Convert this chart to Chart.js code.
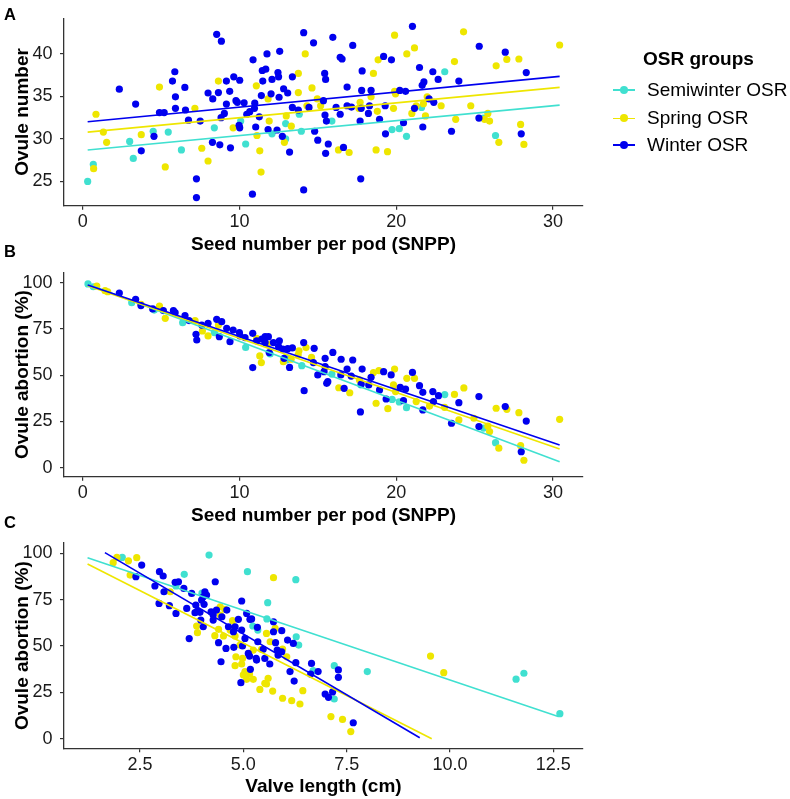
<!DOCTYPE html>
<html>
<head>
<meta charset="utf-8">
<script src="https://cdn.jsdelivr.net/npm/chart.js@4/dist/chart.umd.min.js"></script>
<style>
html,body{margin:0;padding:0;background:#fff;}
#wrap{position:relative;width:790px;height:799px;overflow:hidden;font-family:"Liberation Sans",Arial,sans-serif;color:#000;}
canvas{position:absolute;left:0;top:0;}
.tag{position:absolute;left:4px;font-weight:bold;font-size:16.5px;line-height:16px;}
.lg{position:absolute;font-size:19px;line-height:20px;white-space:nowrap;}
.lgt{font-weight:bold;}
.key{position:absolute;width:22px;height:1.5px;}
.dot{position:absolute;width:8px;height:8px;border-radius:50%;}
</style>
</head>
<body>
<div id="wrap">
<canvas id="cA" width="790" height="799"></canvas>
<canvas id="cB" width="790" height="799"></canvas>
<canvas id="cC" width="790" height="799"></canvas>
<div class="tag" style="top:6px">A</div>
<div class="tag" style="top:243px">B</div>
<div class="tag" style="top:514px">C</div>
<div id="legend"></div>
</div>
<script>
// ---------- DATA ----------
const groupNames = ['Semiwinter OSR', 'Spring OSR', 'Winter OSR'];
const groupColors = ['#40E0D0', '#EEE600', '#0000EE'];

const snppTicks = [0, 10, 20, 30];
const ovuleTicks = [25, 30, 35, 40];
const abortionTicks = [0, 25, 50, 75, 100];
const valveTicks = [2.5, 5.0, 7.5, 10.0, 12.5];
const valveTickLabels = ['2.5', '5.0', '7.5', '10.0', '12.5'];

// Panel A: seed number per pod vs ovule number
const semiwinterA = [[0.32,25.0],[0.68,27.0],[3.0,29.7],[3.23,27.7],[4.5,30.9],[5.46,30.8],[6.3,28.7],[8.4,31.3],[10.08,32.1],[10.4,29.4],[12.08,30.6],[12.95,31.8],[12.95,30.0],[13.82,32.9],[13.95,30.9],[15.9,32.1],[17.75,33.75],[19.74,31.1],[20.2,31.2],[20.66,30.3],[21.62,33.7],[23.1,37.9],[25.57,32.45],[26.34,30.4]];
const springA = [[0.7,26.5],[0.85,32.9],[1.32,30.8],[1.53,29.6],[3.74,30.5],[4.9,36.1],[5.27,26.7],[7.16,33.6],[7.6,28.9],[8.0,27.4],[8.66,36.8],[9.6,31.3],[11.08,36.25],[11.12,30.4],[11.3,28.6],[11.38,26.1],[11.83,34.7],[11.9,32.1],[12.87,29.6],[12.99,32.7],[13.31,31.5],[13.76,37.7],[13.76,35.45],[14.2,40.0],[14.31,33.9],[14.63,36.0],[14.97,34.7],[15.18,33.9],[16.32,28.7],[17.0,28.4],[17.62,33.6],[17.7,34.3],[18.4,34.95],[18.55,37.7],[18.72,28.7],[18.8,33.25],[18.85,39.3],[19.45,28.5],[19.83,33.6],[19.9,35.6],[19.9,42.2],[19.96,35.3],[20.68,40.0],[21.0,33.0],[21.17,40.7],[21.28,33.9],[21.74,34.15],[21.87,32.7],[21.98,34.95],[22.87,33.9],[23.72,39.1],[23.8,32.3],[24.3,42.6],[24.76,33.9],[25.64,32.3],[25.85,33.0],[25.96,32.1],[26.38,38.6],[26.55,29.6],[27.06,39.35],[27.83,39.4],[27.94,31.7],[28.15,29.35],[30.43,41.05]];
const winterA = [[2.34,35.85],[3.38,34.1],[3.74,28.6],[4.55,30.3],[4.9,33.1],[5.2,33.1],[5.73,36.8],[5.88,37.9],[5.92,34.95],[5.92,33.6],[6.52,36.06],[6.56,33.4],[6.75,32.2],[7.26,25.3],[7.26,23.1],[7.5,32.1],[8.0,35.4],[8.28,29.6],[8.3,34.7],[8.55,42.3],[8.66,35.45],[8.75,29.3],[8.83,32.5],[8.85,41.5],[9.04,33.0],[9.17,36.8],[9.17,34.1],[9.38,35.6],[9.43,28.95],[9.64,37.3],[9.78,34.5],[9.87,34.3],[9.98,31.6],[10.02,36.9],[10.02,31.3],[10.3,34.25],[10.47,32.9],[10.66,33.2],[10.83,23.5],[10.87,39.3],[10.96,33.6],[10.98,34.2],[11.04,31.4],[11.27,32.6],[11.4,35.1],[11.46,38.05],[11.49,36.8],[11.68,38.2],[11.76,40.0],[11.83,31.1],[12.02,35.3],[12.08,37.0],[12.4,31.05],[12.46,37.8],[12.5,37.3],[12.53,34.9],[12.57,40.3],[12.74,30.3],[12.82,35.9],[13.08,35.4],[13.2,28.45],[13.38,37.3],[13.38,33.7],[13.76,33.4],[14.1,42.5],[14.1,24.0],[14.44,33.7],[14.73,41.3],[14.8,30.9],[15.0,29.85],[15.36,34.5],[15.44,37.7],[15.46,32.8],[15.5,37.0],[15.5,28.3],[15.55,32.1],[15.67,29.4],[15.96,41.95],[16.17,33.7],[16.43,39.6],[16.43,32.9],[16.55,39.4],[16.64,29.0],[16.87,36.1],[16.87,33.9],[17.15,33.75],[17.23,41.0],[17.7,32.1],[17.74,25.3],[17.77,33.6],[17.8,35.7],[17.83,38.0],[18.23,33.0],[18.3,33.9],[18.4,35.7],[18.94,32.3],[19.2,39.7],[19.3,33.9],[19.32,30.6],[19.7,39.3],[20.23,35.7],[20.47,31.9],[20.6,35.6],[21.04,43.25],[21.17,33.6],[21.49,38.4],[21.66,36.3],[21.7,31.4],[21.77,36.7],[22.1,34.7],[22.34,37.9],[22.4,34.3],[22.68,37.0],[23.53,30.9],[24.0,36.8],[25.28,32.45],[25.3,40.9],[26.96,40.2],[27.98,30.6],[28.3,37.8]];

// Panel B: seed number per pod vs ovule abortion (%)
const semiwinterB = [[0.34,99.3],[0.68,97.8],[3.13,89.2],[4.57,85.2],[6.38,78.4],[8.4,73.0],[10.4,65.0],[11.96,61.5],[12.98,59.6],[13.0,58.2],[13.98,55.1],[15.9,50.6],[17.75,44.7],[19.74,36.9],[20.2,35.5],[20.66,32.4],[23.1,39.5],[25.57,21.4],[26.34,13.5]];
const springB = [[0.9,98.2],[1.43,95.7],[1.6,95.1],[3.72,88.3],[4.9,87.4],[5.27,80.7],[7.17,79.5],[7.64,73.9],[8.0,71.2],[8.66,77.1],[11.1,69.9],[11.3,60.4],[11.4,56.8],[11.8,66.8],[12.8,57.3],[13.3,58.6],[13.75,61.0],[13.8,63.2],[14.25,64.9],[14.6,59.6],[16.34,43.2],[17.04,40.5],[17.66,47.4],[18.55,51.4],[18.72,34.8],[18.9,52.4],[19.47,31.9],[19.83,44.7],[19.9,53.3],[19.96,41.1],[20.68,48.3],[21.17,48.3],[21.28,35.7],[22.13,33.3],[23.09,32.6],[23.72,39.6],[24.0,25.8],[24.32,43.1],[24.96,26.7],[25.85,22.5],[25.96,19.5],[26.38,32.1],[26.55,10.5],[27.06,31.5],[27.83,29.7],[27.94,11.9],[28.15,4.0],[30.43,26.1]];
const winterB = [[2.34,94.4],[3.38,91.0],[3.72,87.6],[4.47,85.8],[5.15,84.9],[5.79,84.9],[5.9,83.8],[6.53,82.2],[6.79,79.5],[7.23,72.1],[7.28,69.0],[7.6,77.1],[8.0,78.0],[8.55,80.2],[8.72,70.8],[8.87,78.9],[9.19,75.3],[9.4,68.1],[9.6,74.4],[10.0,73.0],[10.04,71.2],[10.36,70.3],[10.85,72.6],[10.85,54.1],[11.1,68.6],[11.43,69.5],[11.64,70.8],[11.64,67.6],[11.85,70.8],[11.9,62.2],[12.17,67.6],[12.5,65.4],[12.55,68.6],[12.77,64.1],[12.85,59.1],[13.08,64.3],[13.2,54.2],[13.38,64.7],[14.1,67.6],[14.13,41.6],[14.72,56.8],[14.77,64.5],[15.0,50.1],[15.4,51.9],[15.47,59.1],[15.47,54.6],[15.57,45.6],[15.64,46.5],[15.96,62.3],[16.47,50.1],[16.49,58.6],[16.68,42.9],[16.87,53.3],[17.13,49.5],[17.23,58.2],[17.72,30.1],[17.77,45.2],[17.83,53.3],[18.25,44.7],[18.4,48.8],[18.94,42.0],[19.2,51.9],[19.36,37.1],[19.68,50.1],[20.26,43.4],[20.47,36.2],[20.6,42.5],[21.04,51.5],[21.49,44.3],[21.7,40.7],[21.7,31.2],[22.34,41.1],[22.38,35.7],[22.7,38.9],[23.53,24.0],[24.0,35.1],[25.28,38.4],[25.28,22.2],[26.96,33.0],[27.98,8.6],[28.3,25.2]];

// Panel C: valve length (cm) vs ovule abortion (%)
const semiwinterC = [[2.07,97.8],[3.37,82.4],[3.57,88.7],[4.0,78.5],[4.17,99.1],[5.1,90.1],[5.23,60.8],[5.35,58.6],[5.57,64.6],[5.59,73.4],[6.27,85.8],[6.28,55.0],[6.34,50.5],[6.69,36.7],[7.2,39.4],[7.2,21.4],[8.0,36.2],[11.6,32.1],[11.79,35.3],[12.66,13.5]];
const springC = [[1.85,95.0],[1.94,97.8],[2.22,96.0],[2.42,97.7],[2.26,88.3],[3.23,79.3],[3.87,60.8],[3.89,57.2],[4.31,55.6],[4.4,59.0],[4.44,71.2],[4.44,66.7],[4.52,55.4],[4.55,69.8],[4.68,58.6],[4.74,63.7],[4.8,55.4],[4.8,39.4],[4.82,44.2],[4.92,50.5],[4.96,40.3],[4.98,43.3],[5.0,34.4],[5.04,36.2],[5.08,32.0],[5.15,34.9],[5.24,32.0],[5.24,47.8],[5.4,26.6],[5.44,48.2],[5.52,29.9],[5.56,29.5],[5.56,56.8],[5.6,32.6],[5.65,52.3],[5.71,25.7],[5.73,86.9],[5.77,59.5],[5.95,48.4],[5.95,21.8],[6.05,44.2],[6.17,20.5],[6.37,18.7],[6.44,25.9],[7.12,11.9],[7.4,10.4],[7.6,3.8],[9.53,44.6],[9.85,35.6]];
const winterC = [[2.4,87.4],[2.54,93.7],[2.86,82.4],[2.96,73.0],[2.97,90.1],[3.06,87.8],[3.08,79.3],[3.21,71.8],[3.35,84.4],[3.37,67.6],[3.43,84.7],[3.56,81.1],[3.63,70.3],[3.69,54.0],[3.75,78.4],[3.83,68.0],[3.85,72.1],[3.89,68.9],[3.95,68.2],[3.97,64.0],[3.99,74.8],[4.03,76.6],[4.03,60.4],[4.05,72.5],[4.07,79.3],[4.11,77.5],[4.22,68.5],[4.27,66.7],[4.27,64.0],[4.32,84.7],[4.35,69.4],[4.4,51.8],[4.46,41.5],[4.48,65.8],[4.58,48.7],[4.6,69.4],[4.64,60.4],[4.76,57.7],[4.77,49.3],[4.8,60.4],[4.88,64.4],[4.94,30.2],[4.96,74.3],[4.96,58.6],[4.98,50.0],[5.04,54.1],[5.08,67.6],[5.12,46.0],[5.15,44.6],[5.16,64.4],[5.17,37.4],[5.2,64.6],[5.31,43.3],[5.32,42.4],[5.34,60.1],[5.35,52.3],[5.48,48.2],[5.52,43.3],[5.64,40.3],[5.73,63.1],[5.73,57.7],[5.78,51.8],[5.82,47.8],[5.84,45.1],[5.93,58.3],[5.93,46.9],[6.07,53.2],[6.13,36.2],[6.21,51.4],[6.23,31.1],[6.27,41.0],[6.63,34.9],[6.65,40.6],[6.81,36.2],[6.98,24.1],[7.06,22.3],[7.16,25.2],[7.3,37.1],[7.3,33.1],[7.66,8.6]];

// Fitted regression lines (end points)
const fitA = { semiwinter: [[0.32,28.7],[30.43,33.97]], spring: [[0.32,30.8],[30.43,36.06]], winter: [[0.32,32.02],[30.43,37.36]] };
const fitB = { semiwinter: [[0.32,99.1],[30.43,3.2]], spring: [[0.32,98.3],[30.43,10.1]], winter: [[0.32,98.7],[30.43,12.3]] };
const fitC = { semiwinter: [[1.23,97.7],[12.62,11.9]], spring: [[1.23,94.3],[9.56,0.0]], winter: [[1.65,100.4],[9.27,0.5]] };

// ---------- RENDER ----------
const FONT = '"Liberation Sans", Arial, sans-serif';
const AXIS_COLOR = '#333333';
const TICK_SIZE = 18;
const TITLE_SIZE = 19;

function toXY(arr) { return arr.map(p => ({x: p[0], y: p[1]})); }

function buildDatasets(points, fits) {
  const ds = [];
  const keys = ['semiwinter', 'spring', 'winter'];
  keys.forEach((k, i) => {
    ds.push({
      type: 'line', label: groupNames[i] + ' fit', data: toXY(fits[k]),
      borderColor: groupColors[i], borderWidth: 1.6, pointRadius: 0, fill: false,
      order: 2 - i, tension: 0
    });
  });
  points.forEach((pts, i) => {
    ds.push({
      type: 'scatter', label: groupNames[i], data: toXY(pts),
      backgroundColor: groupColors[i], borderColor: groupColors[i], borderWidth: 0,
      pointRadius: 3.6, pointHoverRadius: 3.6, order: 5 - i
    });
  });
  return ds;
}

function makeChart(id, cfg) {
  const xLabelsFn = cfg.xLabels ? (v) => { const idx = cfg.xTicks.findIndex(t => Math.abs(t - v) < 1e-9); return idx >= 0 ? cfg.xLabels[idx] : ''; } : (v) => String(v);
  return new Chart(document.getElementById(id), {
    data: { datasets: buildDatasets(cfg.points, cfg.fits) },
    options: {
      responsive: false, animation: false, devicePixelRatio: 1,
      layout: { padding: { left: 0, right: 207, top: cfg.top, bottom: 799 - cfg.bottom - 50 } },
      plugins: { legend: { display: false }, tooltip: { enabled: false } },
      events: [],
      scales: {
        x: {
          type: 'linear', position: 'bottom', min: cfg.xMin, max: cfg.xMax,
          afterBuildTicks: s => { s.ticks = cfg.xTicks.map(v => ({value: v})); },
          afterFit: s => { s.height = 50; },
          ticks: { callback: xLabelsFn, font: { family: FONT, size: TICK_SIZE }, color: '#1a1a1a', padding: 1.5, maxRotation: 0, autoSkip: false },
          grid: { display: true, drawOnChartArea: false, drawTicks: true, tickLength: 4, color: AXIS_COLOR, lineWidth: 1.2 },
          border: { display: true, color: AXIS_COLOR, width: 1.3 },
          title: { display: true, text: cfg.xTitle, font: { family: FONT, size: TITLE_SIZE, weight: 'bold' }, color: '#000', padding: { top: 0, bottom: 0 } }
        },
        y: {
          type: 'linear', position: 'left', min: cfg.yMin, max: cfg.yMax,
          afterBuildTicks: s => { s.ticks = cfg.yTicks.map(v => ({value: v})); },
          afterFit: s => { s.width = 64; },
          ticks: { callback: v => String(v), font: { family: FONT, size: TICK_SIZE }, color: '#1a1a1a', padding: 7.5, autoSkip: false },
          grid: { display: true, drawOnChartArea: false, drawTicks: true, tickLength: 4, color: AXIS_COLOR, lineWidth: 1.2 },
          border: { display: true, color: AXIS_COLOR, width: 1.3 },
          title: { display: true, text: cfg.yTitle, font: { family: FONT, size: TITLE_SIZE, weight: 'bold' }, color: '#000', padding: { top: 11, bottom: 0 } }
        }
      }
    }
  });
}

makeChart('cA', {
  points: [semiwinterA, springA, winterA], fits: fitA,
  top: 2, bottom: 205.7, xMin: -1.19, xMax: 31.92, yMin: 22.14, yMax: 44.19,
  xTicks: snppTicks, yTicks: ovuleTicks,
  xTitle: 'Seed number per pod (SNPP)', yTitle: 'Ovule number'
});
makeChart('cB', {
  points: [semiwinterB, springB, winterB], fits: fitB,
  top: 272.5, bottom: 476.7, xMin: -1.19, xMax: 31.92, yMin: -4.9, yMax: 105.5,
  xTicks: snppTicks, yTicks: abortionTicks,
  xTitle: 'Seed number per pod (SNPP)', yTitle: 'Ovule abortion (%)'
});
makeChart('cC', {
  points: [semiwinterC, springC, winterC], fits: fitC,
  top: 543, bottom: 748.3, xMin: 0.66, xMax: 13.22, yMin: -5.2, yMax: 105.6,
  xTicks: valveTicks, xLabels: valveTickLabels, yTicks: abortionTicks,
  xTitle: 'Valve length (cm)', yTitle: 'Ovule abortion (%)'
});

// ---------- LEGEND (HTML text) ----------
(function () {
  const lg = document.getElementById('legend');
  const title = document.createElement('div');
  title.className = 'lg lgt';
  title.style.left = '643px'; title.style.top = '49px';
  title.textContent = 'OSR groups';
  lg.appendChild(title);
  const centers = [90, 118.3, 145];
  groupNames.forEach((name, i) => {
    const t = document.createElement('div');
    t.className = 'lg';
    t.style.left = '647px'; t.style.top = (centers[i] - 10) + 'px';
    t.textContent = name;
    lg.appendChild(t);
    const k = document.createElement('div');
    k.className = 'key';
    k.style.left = '613px'; k.style.top = (centers[i] - 0.75) + 'px';
    k.style.background = groupColors[i];
    lg.appendChild(k);
    const d = document.createElement('div');
    d.className = 'dot';
    d.style.left = '620px'; d.style.top = (centers[i] - 4) + 'px';
    d.style.background = groupColors[i];
    lg.appendChild(d);
  });
})();
</script>
</body>
</html>
